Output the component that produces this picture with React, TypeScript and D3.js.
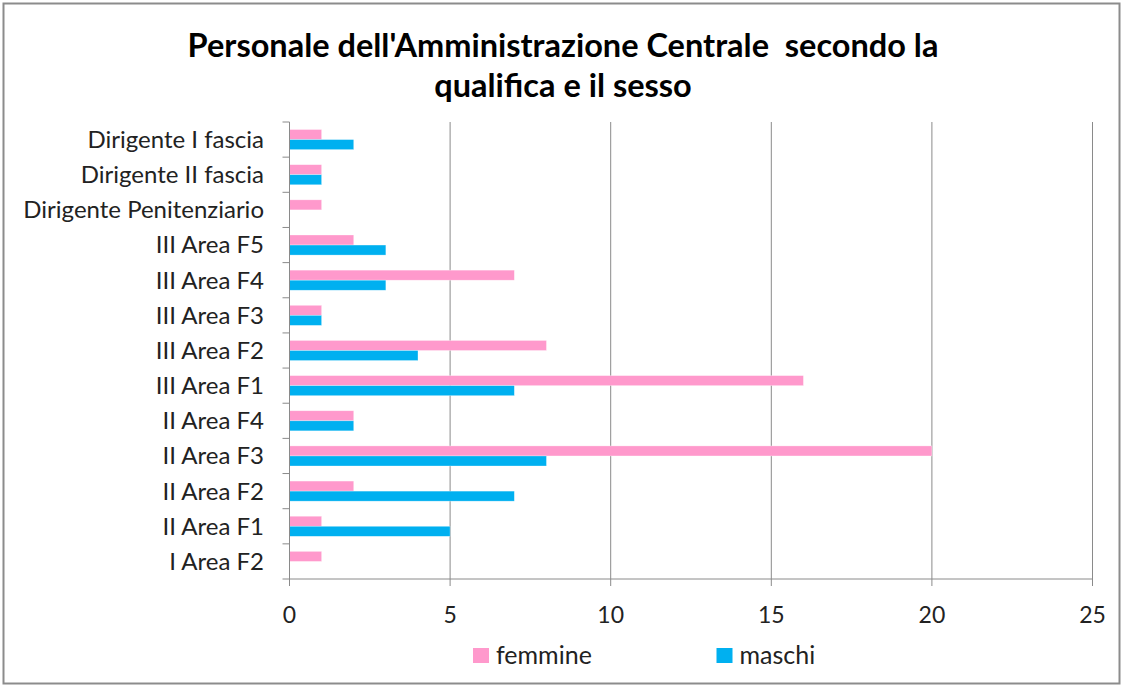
import React from "react";
import * as d3 from "d3";

const categories = [
  "Dirigente I fascia",
  "Dirigente II fascia",
  "Dirigente Penitenziario",
  "III Area F5",
  "III Area F4",
  "III Area F3",
  "III Area F2",
  "III Area F1",
  "II Area F4",
  "II Area F3",
  "II Area F2",
  "II Area F1",
  "I Area F2",
];
const femmine = [1, 1, 1, 2, 7, 1, 8, 16, 2, 20, 2, 1, 1];
const maschi = [2, 1, 0, 3, 3, 1, 4, 7, 2, 8, 7, 5, 0];
const seriesNames = ["femmine", "maschi"];
const seriesColors = ["#FF99CC", "#00B0F0"];
const xTicks = [0, 5, 10, 15, 20, 25];
const titleLines = [
  "Personale dell'Amministrazione Centrale  secondo la",
  "qualifica e il sesso",
];

const W = 1123;
const H = 686;
const FONT = "Lato, 'Open Sans', sans-serif";

export default function App() {
  const left = 289.5;
  const right = 1092.5;
  const top = 122;
  const bottom = 579;
  const x = d3.scaleLinear().domain([0, 25]).range([left, right]);
  const y = d3.scaleBand<string>().domain(categories).range([top, bottom]).paddingInner(0).paddingOuter(0);
  const bw = y.bandwidth();
  const barH = bw / 3.5;
  const inner = d3
    .scaleBand<string>()
    .domain(seriesNames)
    .range([(bw - 2 * barH) / 2, (bw + 2 * barH) / 2]);
  const values = [femmine, maschi];

  return (
    <div style={{ position: "fixed", left: 0, top: 0 }}>
      <svg width={W} height={H} style={{ display: "block", background: "#fff" }}>
        <rect x={0} y={0} width={W} height={H} fill="#fff" />
        <rect x={3.5} y={3.5} width={1116} height={680} fill="none" stroke="#8c8c8c" strokeWidth={2} />
        {titleLines.map((t, i) => (
          <text
            key={i}
            x={563}
            y={57 + i * 40}
            textAnchor="middle"
            fontFamily={FONT}
            fontWeight="bold"
            fontSize={32.5}
            fill="#000"
            style={{ whiteSpace: "pre" }}
          >
            {t}
          </text>
        ))}
        {/* gridlines */}
        {xTicks.filter((t) => t > 0).map((t) => (
          <line key={t} x1={x(t)} x2={x(t)} y1={top} y2={bottom} stroke="#8a8a8a" strokeWidth={1} />
        ))}
        {/* bars */}
        {categories.map((c, ci) => (
          <g key={c} transform={`translate(0,${y(c)})`}>
            {seriesNames.map((s, si) => {
              const v = values[si][ci];
              if (!v) return null;
              return (
                <rect
                  key={s}
                  x={x(0)}
                  y={inner(s)}
                  width={x(v) - x(0)}
                  height={inner.bandwidth()}
                  fill={seriesColors[si]}
                  stroke="#ffffff"
                  strokeOpacity={0.5}
                  strokeWidth={0.6}
                />
              );
            })}
          </g>
        ))}
        {/* axes */}
        <line x1={x(0)} x2={x(0)} y1={top} y2={bottom} stroke="#8a8a8a" strokeWidth={1} />
        <line x1={x(0) - 7} x2={right} y1={bottom} y2={bottom} stroke="#8a8a8a" strokeWidth={1} />
        {categories.map((c) => (
          <line key={c} x1={x(0) - 7} x2={x(0)} y1={y(c)!} y2={y(c)!} stroke="#8a8a8a" strokeWidth={1} />
        ))}
        {xTicks.map((t) => (
          <line key={t} x1={x(t)} x2={x(t)} y1={bottom} y2={bottom + 7} stroke="#8a8a8a" strokeWidth={1} />
        ))}
        {categories.map((c) => (
          <text
            key={c}
            x={264}
            y={y(c)! + bw / 2}
            dy="0.35em"
            textAnchor="end"
            fontFamily={FONT}
            fontSize={24}
            fill="#222"
            style={{ whiteSpace: "pre" }}
          >
            {c}
          </text>
        ))}
        {xTicks.map((t) => (
          <text key={t} x={x(t)} y={614.5} dy="0.35em" textAnchor="middle" fontFamily={FONT} fontSize={23} fill="#222">
            {t}
          </text>
        ))}
        {/* legend */}
        {seriesNames.map((s, i) => {
          const lx = [473, 716.5][i];
          return (
            <g key={s}>
              <rect x={lx} y={648} width={16} height={15} fill={seriesColors[i]} />
              <text x={lx + 23} y={655} dy="0.35em" fontFamily={FONT} fontSize={25} fill="#222">
                {s}
              </text>
            </g>
          );
        })}
      </svg>
    </div>
  );
}
